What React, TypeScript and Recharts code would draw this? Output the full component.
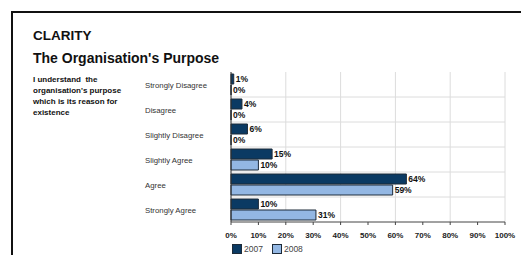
import React from 'react';
import {
  BarChart,
  Bar,
  XAxis,
  YAxis,
  CartesianGrid,
  LabelList,
} from 'recharts';

const CATEGORIES = [
  'Strongly Disagree',
  'Disagree',
  'Slightly Disagree',
  'Slightly Agree',
  'Agree',
  'Strongly Agree',
];
const VALUES_2007 = [1, 4, 6, 15, 64, 10];
const VALUES_2008 = [0, 0, 0, 10, 59, 31];
const X_TICKS = [0, 10, 20, 30, 40, 50, 60, 70, 80, 90, 100];
const SERIES = [
  { key: 'y2007', label: '2007', color: '#0b3a63' },
  { key: 'y2008', label: '2008', color: '#93b7e3' },
];
const QUESTION = [
  'I understand  the',
  "organisation's purpose",
  'which is its reason for',
  'existence',
];

const FONT = '"Liberation Sans", Arial, sans-serif';

const data = CATEGORIES.map((name, i) => ({
  name,
  y2007: VALUES_2007[i],
  y2008: VALUES_2008[i],
}));

const CategoryTick = (props: any) => {
  const { y, payload } = props;
  return (
    <text
      x={145}
      y={y}
      dy={3}
      textAnchor="start"
      fontSize={7.8}
      fill="#333"
      fontFamily={FONT}
    >
      {payload.value}
    </text>
  );
};

export default function App() {
  return (
    <div
      style={{
        position: 'absolute',
        left: 0,
        top: 0,
        width: 521,
        height: 255,
        background: '#fff',
        overflow: 'hidden',
        fontFamily: FONT,
      }}
    >
      {/* frame */}
      <div
        style={{
          position: 'absolute',
          left: 11,
          top: 11,
          width: 530,
          height: 260,
          borderTop: '2px solid #111',
          borderLeft: '2px solid #111',
        }}
      />
      <div style={{ position: 'absolute', left: 33, top: 28, fontSize: 13.5, fontWeight: 'bold', color: '#111' }}>
        CLARITY
      </div>
      <div style={{ position: 'absolute', left: 33, top: 50, fontSize: 14, fontWeight: 'bold', color: '#111' }}>
        The Organisation's Purpose
      </div>
      <div
        style={{
          position: 'absolute',
          left: 33,
          top: 74,
          fontSize: 8,
          fontWeight: 'bold',
          lineHeight: '11px',
          color: '#111',
          whiteSpace: 'pre',
        }}
      >
        {QUESTION.join('\n')}
      </div>

      <div style={{ position: 'absolute', left: 0, top: 0 }}>
        <BarChart
          width={521}
          height={255}
          data={data}
          layout="vertical"
          margin={{ top: 72, right: 16, left: 141, bottom: 13 }}
          barSize={10}
          barGap={1}
        >
          <CartesianGrid
            stroke="#dcdcdc"
            horizontalCoordinatesGenerator={({ offset }: any) =>
              CATEGORIES.slice(1).map(
                (_, i) => offset.top + ((i + 1) * offset.height) / CATEGORIES.length
              )
            }
          />
          <XAxis
            type="number"
            domain={[0, 100]}
            ticks={X_TICKS}
            tickFormatter={(v) => `${v}%`}
            height={20}
            stroke="#444"
            tickSize={3}
            tickMargin={7}
            tick={{ fontSize: 8, fontWeight: 'bold', fill: '#222', fontFamily: FONT }}
          />
          <YAxis
            type="category"
            dataKey="name"
            width={90}
            stroke="#333"
            tickLine={false}
            tick={<CategoryTick />}
          />
          {SERIES.map((s) => (
            <Bar
              key={s.key}
              dataKey={s.key}
              fill={s.color}
              stroke="#1d2a38"
              strokeWidth={1}
              minPointSize={0.1}
              isAnimationActive={false}
            >
              <LabelList
                dataKey={s.key}
                position="right"
                offset={2}
                formatter={(v: any) => `${v}%`}
                style={{ fontSize: 8.5, fontWeight: 'bold', fill: '#111', fontFamily: FONT }}
              />
            </Bar>
          ))}
        </BarChart>
      </div>

      {/* legend */}
      <div
        style={{
          position: 'absolute',
          left: 232,
          top: 244,
          display: 'flex',
          alignItems: 'center',
          fontSize: 8.5,
          color: '#444',
        }}
      >
        {SERIES.map((s) => (
          <div key={s.key} style={{ display: 'flex', alignItems: 'center', marginRight: 9 }}>
            <div
              style={{
                width: 8,
                height: 8,
                background: s.color,
                border: '1px solid #1d2a38',
                marginRight: 2,
              }}
            />
            <span>{s.label}</span>
          </div>
        ))}
      </div>
    </div>
  );
}
